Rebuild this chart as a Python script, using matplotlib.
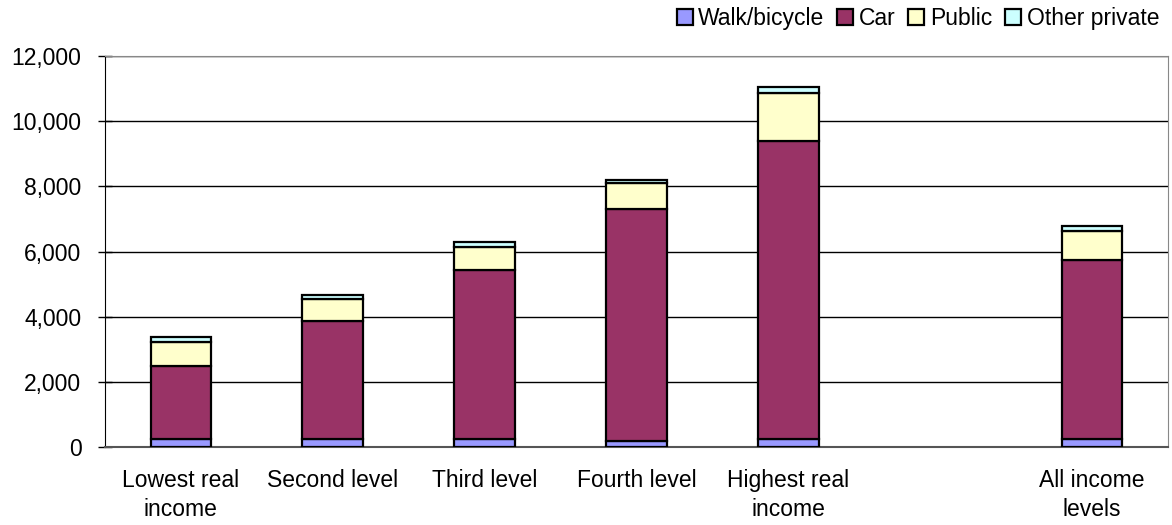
import numpy as np
import matplotlib.pyplot as plt
from matplotlib.ticker import FuncFormatter

categories = ["Lowest real\nincome", "Second level", "Third level", "Fourth level",
              "Highest real\nincome", "", "All income\nlevels"]
walk = [240, 240, 240, 190, 240, 0, 240]
car = [2255, 3620, 5200, 7120, 9150, 0, 5510]
public = [740, 675, 690, 780, 1460, 0, 870]
other = [135, 125, 170, 115, 205, 0, 175]
has_bar = [True, True, True, True, True, False, True]

series = [("Walk/bicycle", walk, "#9999FF"),
          ("Car", car, "#993366"),
          ("Public", public, "#FFFFCC"),
          ("Other private", other, "#CCFFFF")]

plt.rcParams['font.family'] = ['Liberation Sans', 'DejaVu Sans']

fig = plt.figure(figsize=(11.72, 5.25), dpi=100)
ax = fig.add_axes([105 / 1172, 1 - 447 / 525, 1063 / 1172, 391 / 525])

x = np.arange(len(categories))
idx = [i for i in range(len(categories)) if has_bar[i]]
bottom = np.zeros(len(idx))
for label, vals, color in series:
    v = np.array([vals[i] for i in idx], dtype=float)
    ax.bar(x[idx], v, 0.4, bottom=bottom, color=color, edgecolor="black",
           linewidth=1.6, label=label, zorder=3)
    bottom += v

ax.set_xlim(-0.5, len(categories) - 0.5)
ax.set_ylim(0, 12000)
ax.set_yticks(np.arange(0, 12001, 2000))
ax.yaxis.set_major_formatter(FuncFormatter(lambda v, p: f"{int(v):,}"))
ax.yaxis.grid(True, color="black", linewidth=1.0, zorder=0)
ax.set_xticks(x)
ax.set_xticklabels(categories, fontsize=16.5, linespacing=1.3)
ax.tick_params(axis="x", length=0, pad=16)
ax.tick_params(axis="y", direction="inout", length=10, width=1, labelsize=16.5, pad=12)

ax.spines['left'].set_color("black")
ax.spines['bottom'].set_color("#555555")
ax.spines['bottom'].set_linewidth(1.5)
ax.spines['top'].set_color("#888888")
ax.spines['right'].set_color("#888888")

fig.legend(loc="upper right", bbox_to_anchor=(0.995, 1.0), ncol=4, frameon=False,
           fontsize=16.5, handlelength=0.7, handleheight=0.7, handletextpad=0.25,
           columnspacing=0.55, borderaxespad=0.0, borderpad=0.3)

fig.savefig("out.png", dpi=100)
